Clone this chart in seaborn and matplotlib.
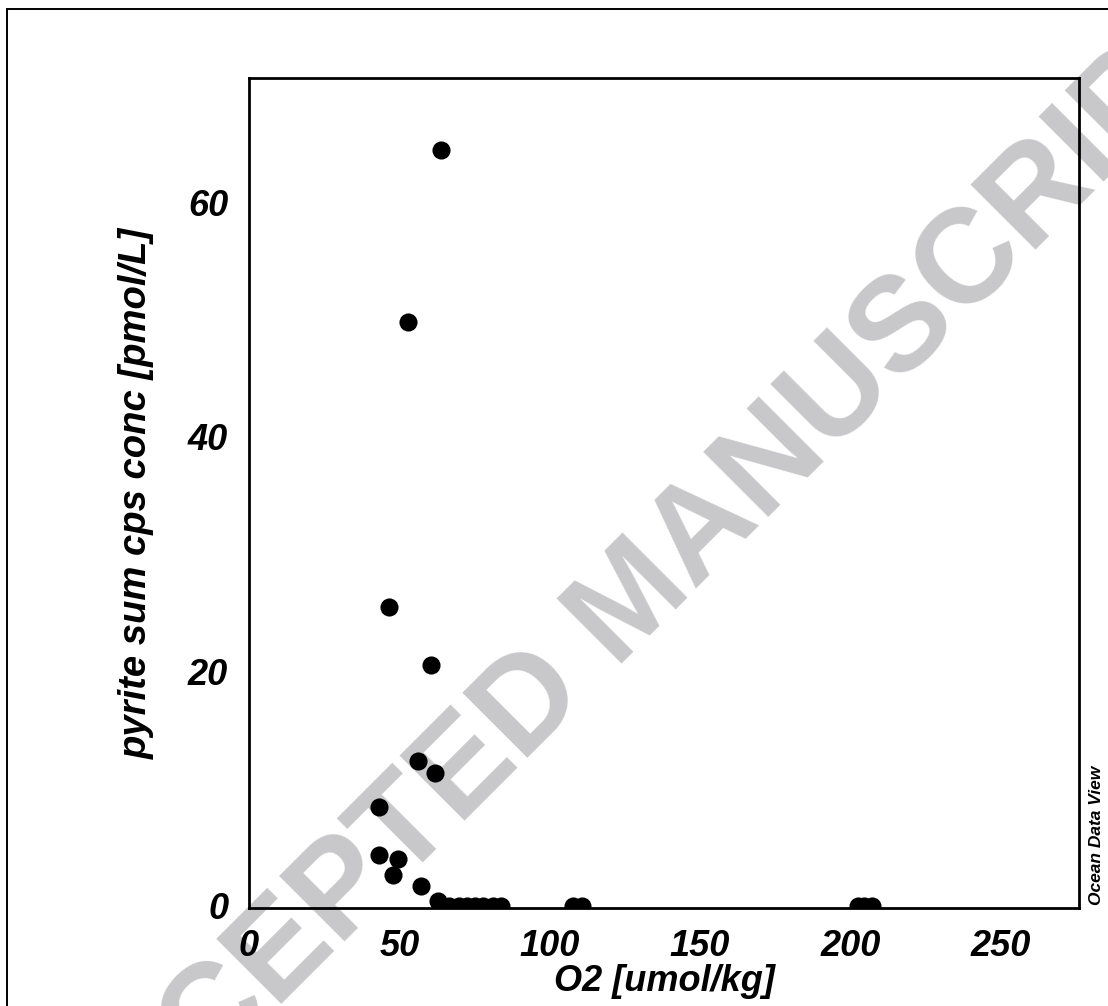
import matplotlib
matplotlib.use("Agg")
import matplotlib.pyplot as plt
import matplotlib.patches as mpatches
import seaborn as sns
import numpy as np

# O2 [umol/kg] vs pyrite sum cps conc [pmol/L]
o2 = [63.7, 52.8, 46.5, 60.4, 56.1, 61.8, 43.2, 43.2, 49.5, 47.8, 57.1,
      62.7, 66.4, 69.7, 72.4, 75.0, 77.7, 81.0, 83.7,
      107.9, 110.6, 202.5, 204.5, 207.2]
pyrite = [64.5, 49.8, 25.5, 20.5, 12.3, 11.3, 8.4, 4.3, 4.0, 2.6, 1.7,
          0.4, 0.0, 0.0, 0.0, 0.0, 0.0, 0.0, 0.0,
          0.0, 0.0, 0.0, 0.0, 0.0]

xticks = [0, 50, 100, 150, 200, 250]
yticks = [0, 20, 40, 60]

sns.set_theme(style='white')
plt.rcParams['font.family'] = ['Liberation Sans', 'DejaVu Sans']
plt.rcParams['text.color'] = 'black'
plt.rcParams['axes.labelcolor'] = 'black'
plt.rcParams['xtick.color'] = 'black'
plt.rcParams['ytick.color'] = 'black'

fig = plt.figure(figsize=(11.08, 10.06), dpi=100)
ax = fig.add_axes([0.2247, 0.0974, 0.7491, 0.8250])
ax.patch.set_visible(False)

sns.scatterplot(x=o2, y=pyrite, color='black', s=170, linewidth=0,
                ax=ax, zorder=3)

ax.set_xlim(0, 276)
ax.set_ylim(-0.2, 70.6)
ax.set_xticks(xticks)
ax.set_yticks(yticks)
ax.tick_params(length=0, labelsize=26, pad=15, colors='black')
for lab in ax.get_xticklabels() + ax.get_yticklabels():
    lab.set_fontweight('bold')
    lab.set_fontstyle('italic')
for sp in ax.spines.values():
    sp.set_linewidth(2.0)
    sp.set_color('black')

ax.set_xlabel('O2 [umol/kg]', fontsize=26, fontweight='bold',
              fontstyle='italic', labelpad=0, color='black')
ax.set_ylabel('pyrite sum cps conc [pmol/L]', fontsize=27.5,
              fontweight='bold', fontstyle='italic', labelpad=24,
              color='black')

fig.text(0.990, 0.100, 'Ocean Data View', rotation=90, ha='center',
         va='bottom', fontsize=12.5, fontweight='bold', fontstyle='italic',
         color='black')

# watermark behind the plot
fig.text(0.572, 0.40, 'ACCEPTED MANUSCRIPT', rotation=45,
         ha='center', va='center', rotation_mode='anchor',
         fontsize=96, fontweight='bold', color='#c8c8ca', zorder=-1)

# outer frame (cut by the image edge)
fig.patches.append(mpatches.Rectangle((7 / 1108, -0.1), 1.2,
                                      1.1 - 9 / 1006,
                                      transform=fig.transFigure,
                                      fill=False, edgecolor='black',
                                      linewidth=1.4, clip_on=False))

fig.savefig('out.png', dpi=100)
